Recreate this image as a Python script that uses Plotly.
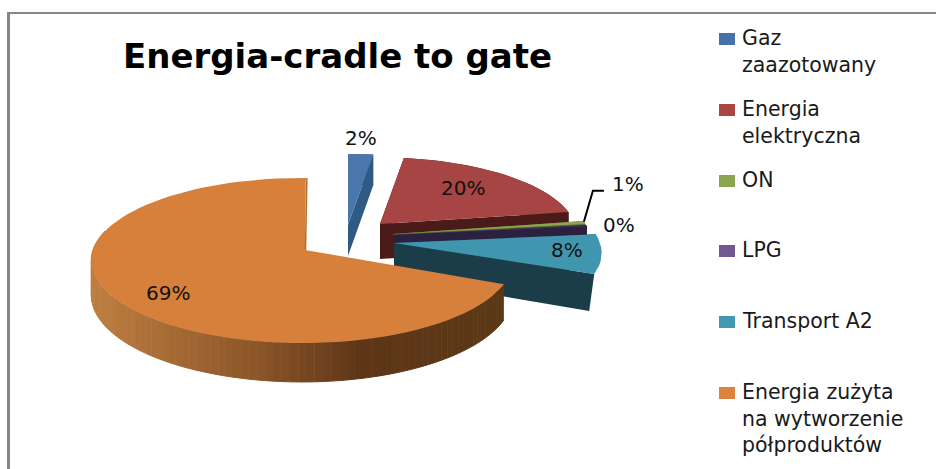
import math
import plotly.graph_objects as go

# Energy shares in percent, clockwise from twelve o'clock
categories = ["Gaz<br>zaazotowany", "Energia<br>elektryczna", "ON", "LPG", "Transport A2",
              "Energia zużyta<br>na wytworzenie<br>półproduktów"]
values = [2.2, 20.2, 0.6, 0.2, 8.0, 68.8]
title_text = "Energia-cradle to gate"

TOP = ["#4A76AC", "#A64543", "#8AA650", "#71588F", "#4096AE", "#D6803B"]
SWATCH = ["#4573A7", "#AA4643", "#89A54E", "#71588F", "#4198AF", "#DB843D"]
WALL = ["#2F5A85", "#4A1B19", "#55682F", "#2C2040", "#1B3D49", "#5A3816"]
FONT = "DejaVu Sans"

# Per-slice projection: apex position, rim centre, radii, wall height, angular nudge, face taper
SLICE = [
    dict(apex=(348, 225), rim=(348, 225), a=206, b=80, h=31, rot=0, outer=True, taper=0),
    dict(apex=(380, 224), rim=(380, 224), a=195, b=75, h=35, rot=0, outer=True, taper=0),
    dict(apex=(393, 234), rim=(393, 234), a=197, b=81, h=12, rot=0, outer=True, taper=0),
    dict(apex=(393, 235), rim=(393, 235), a=198, b=81, h=12, rot=0, outer=True, taper=0),
    dict(apex=(394, 243), rim=(394, 243), a=206, b=78, h=35, rot=0, outer=False, taper=5),
    dict(apex=(305, 250), rim=(302, 250), a=209, b=81.2, h=34, rot=1.2, outer=True, taper=0),
]
LABEL_OFFSET = [(13, -87), (83, -36), (235, -50), (226, -10), (173, 7), (-137, 43)]
SWATCH_TOP = [33, 104, 175, 245, 316, 387]
LABEL_TOP = [24, 95, 166, 236, 307, 378]
K = 0.127


def rim_point(s, theta):
    u, v = math.sin(math.radians(theta)), math.cos(math.radians(theta))
    w = 1 + K * v
    return s["rim"][0] + s["a"] * u / w, s["apex"][1] - s["b"] * v / w, v


def wall_h(s, v):
    return s["h"] / (1 + K * min(v, 0))


def hex_mix(c1, c2, t):
    a = [int(c1[i:i + 2], 16) for i in (1, 3, 5)]
    b = [int(c2[i:i + 2], 16) for i in (1, 3, 5)]
    return "#" + "".join(f"{round(p + (q - p) * t):02X}" for p, q in zip(a, b))


ORANGE_RAMP = [(92, "#BE7E40"), (260, "#8A5428"), (360, "#5E3617"), (510, "#5A3816")]


def ramp(x):
    for (x0, c0), (x1, c1) in zip(ORANGE_RAMP, ORANGE_RAMP[1:]):
        if x <= x1:
            return hex_mix(c0, c1, max(0, (x - x0) / (x1 - x0)))
    return ORANGE_RAMP[-1][1]


fig = go.Figure()


def poly(xs, ys, color, lw=0.0):
    fig.add_trace(go.Scatter(x=xs, y=ys, mode="lines", fill="toself", fillcolor=color,
                             line=dict(color=color, width=lw), hoverinfo="skip", showlegend=False))


annotations = []
start = 0.0
apex_list = []
for i, val in enumerate(values):
    s = SLICE[i]
    end = start + val * 3.6
    n = max(3, int((end - start) / 3))
    thetas = [start + s["rot"] + (end - start) * j / n for j in range(n + 1)]
    rim = [rim_point(s, t) for t in thetas]
    ax, ay = s["apex"]
    apex_list.append((ax, ay))

    if i == 5:
        # Shaded outer wall of the large slice, painted as one band per colour step
        fine = [start + s["rot"] + (end - start) * j / 500 for j in range(501)]
        pts = [rim_point(s, t) for t in fine if math.cos(math.radians(t)) < 0.25]
        for j in range(0, len(pts) - 4, 4):
            seg = pts[j:j + 5]
            xs = [p[0] for p in seg] + [p[0] for p in reversed(seg)]
            ys = [p[1] for p in seg] + [p[1] + wall_h(s, p[2]) for p in reversed(seg)]
            poly(xs, ys, ramp(seg[2][0]), 1.0)
    else:
        if s["outer"]:
            xs = [p[0] for p in rim] + [p[0] for p in reversed(rim)]
            ys = [p[1] for p in rim] + [p[1] + wall_h(s, p[2]) for p in reversed(rim)]
            poly(xs, ys, WALL[i])
        # Cut face running from the apex to the end of the rim
        xe, ye, ve = rim[-1]
        poly([ax, xe, xe - s["taper"], ax], [ay, ye, ye + wall_h(s, ve), ay + s["h"]], WALL[i])
        # Cut face at the start of the slice
        xb, yb, vb = rim[0]
        poly([ax, xb, xb, ax], [ay, yb, yb + wall_h(s, vb), ay + s["h"]], WALL[i])

    poly([ax] + [p[0] for p in rim], [ay] + [p[1] for p in rim], TOP[i])

    if i == 5:
        xe, ye, _ = rim[-1]
        fig.add_trace(go.Scatter(x=[ax + 0.5, xe + 1], y=[ay, ye], mode="lines",
                                 line=dict(color="#B0712F", width=1.5),
                                 hoverinfo="skip", showlegend=False))
    start = end

# Leader line for the ON label
on_start = sum(values[:2]) * 3.6
lx, ly, _ = rim_point(SLICE[2], on_start + 0.5)
fig.add_trace(go.Scatter(x=[lx, lx + 9, lx + 20], y=[ly, ly - 31, ly - 31], mode="lines",
                         line=dict(color="#000000", width=2), hoverinfo="skip", showlegend=False))

# Percentage labels
for i, val in enumerate(values):
    annotations.append(dict(x=apex_list[i][0] + LABEL_OFFSET[i][0], y=apex_list[i][1] + LABEL_OFFSET[i][1],
                            text=f"{round(val)}%", showarrow=False, xref="x", yref="y",
                            font=dict(family=FONT, size=20, color="#111111"),
                            xanchor="center", yanchor="middle"))

# Legend entries
shapes = []
for name, color, sw, ty in zip(categories, SWATCH, SWATCH_TOP, LABEL_TOP):
    shapes.append(dict(type="rect", x0=719, x1=735, y0=sw, y1=sw + 12, xref="x", yref="y",
                       fillcolor=color, line=dict(width=0), layer="above"))
    annotations.append(dict(x=740, y=ty, text=name, showarrow=False, xref="x", yref="y",
                            xanchor="left", yanchor="top", align="left",
                            font=dict(family=FONT, size=20.5, color="#1A1A1A")))

# Chart frame: only the top and left edges fall inside the page
shapes.append(dict(type="line", x0=8.5, x1=8.5, y0=13, y1=469, xref="x", yref="y",
                   line=dict(color="#868686", width=3)))
shapes.append(dict(type="line", x0=7, x1=936, y0=13, y1=13, xref="x", yref="y",
                   line=dict(color="#868686", width=2)))

annotations.append(dict(x=337, y=56, text=f"<b>{title_text}</b>", showarrow=False, xref="x", yref="y",
                        xanchor="center", yanchor="middle",
                        font=dict(family=FONT, size=34, color="#000000")))

fig.update_layout(
    width=936, height=469, margin=dict(l=0, r=0, t=0, b=0),
    paper_bgcolor="#FFFFFF", plot_bgcolor="#FFFFFF", showlegend=False,
    xaxis=dict(range=[0, 936], visible=False, fixedrange=True),
    yaxis=dict(range=[469, 0], visible=False, fixedrange=True),
    annotations=annotations, shapes=shapes,
)
fig.write_html("out.html", config=dict(displayModeBar=False))
